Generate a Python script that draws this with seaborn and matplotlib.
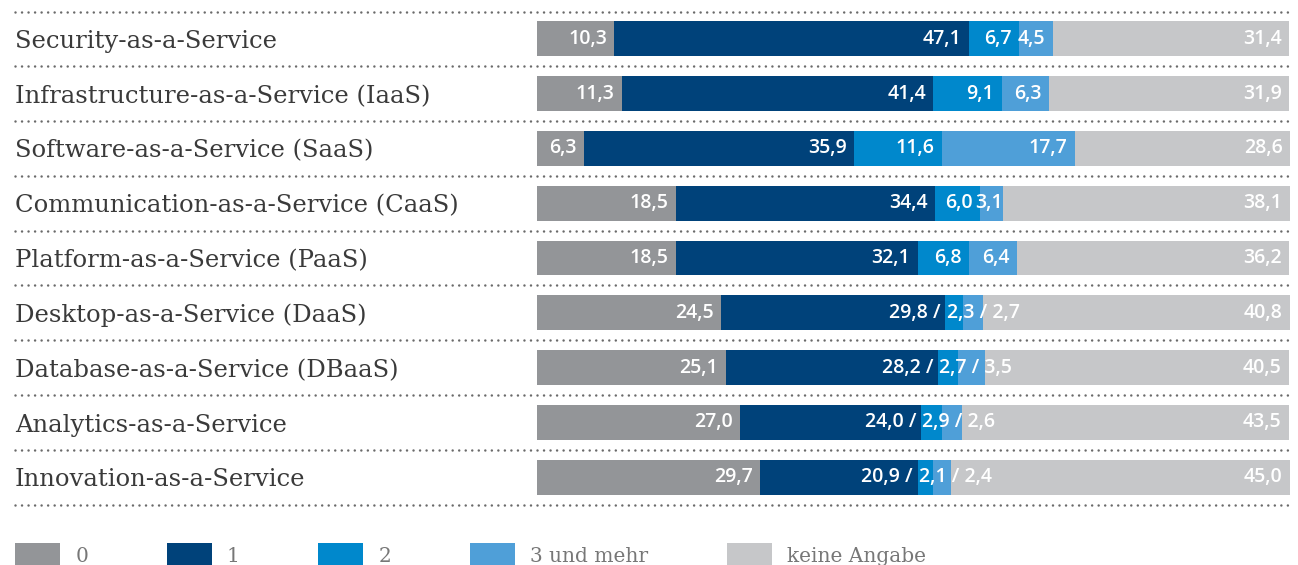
import matplotlib
matplotlib.use("Agg")
import matplotlib.pyplot as plt
import matplotlib.transforms as mtransforms
from matplotlib.patches import Patch
import seaborn as sns
import pandas as pd

categories = [
    "Security-as-a-Service",
    "Infrastructure-as-a-Service (IaaS)",
    "Software-as-a-Service (SaaS)",
    "Communication-as-a-Service (CaaS)",
    "Platform-as-a-Service (PaaS)",
    "Desktop-as-a-Service (DaaS)",
    "Database-as-a-Service (DBaaS)",
    "Analytics-as-a-Service",
    "Innovation-as-a-Service",
]
val_0 = [10.3, 11.3, 6.3, 18.5, 18.5, 24.5, 25.1, 27.0, 29.7]
val_1 = [47.1, 41.4, 35.9, 34.4, 32.1, 29.8, 28.2, 24.0, 20.9]
val_2 = [6.7, 9.1, 11.6, 6.0, 6.8, 2.3, 2.7, 2.9, 2.1]
val_3 = [4.5, 6.3, 17.7, 3.1, 6.4, 2.7, 3.5, 2.6, 2.4]
val_na = [31.4, 31.9, 28.6, 38.1, 36.2, 40.8, 40.5, 43.5, 45.0]
legend_labels = ["0", "1", "2", "3 und mehr", "keine Angabe"]
colors = ["#939598", "#00427a", "#0088cc", "#4f9fd8", "#c6c7c9"]

df = pd.DataFrame({"cat": categories, "v0": val_0, "v1": val_1, "v2": val_2,
                   "v3": val_3, "vna": val_na})
series = ["v0", "v1", "v2", "v3", "vna"]
cum = df[series].cumsum(axis=1)


def fmt(v):
    return f"{v:.1f}".replace(".", ",")


W, H = 1298, 565
fig = plt.figure(figsize=(W / 100, H / 100), dpi=100)
ax = fig.add_axes([537 / W, 1 - 504.5 / H, (1290 - 537) / W, (504.5 - 11.5) / H])

# stacked bars: draw cumulative totals from the outermost layer inwards
for s, c in reversed(list(zip(series, colors))):
    sns.barplot(x=cum[s], y=df["cat"], color=c, orient="h", width=0.635,
                saturation=1, ax=ax, edgecolor="none")

ax.set_xlim(0, 100.1)
ax.set_ylim(len(categories) - 0.5, -0.5)
ax.axis("off")

val_font = dict(family="Open Sans", weight="semibold", size=14, color="white",
                va="center")
for i, row in df.iterrows():
    ends = cum.iloc[i]
    if row["v2"] < 3:
        # small segments: combined label around the end of segment "1"
        ax.text(ends["v0"] - 1.0, i, fmt(row["v0"]), ha="right", **val_font)
        ax.text(ends["v1"] - 0.6, i, fmt(row["v1"]) + " /", ha="right", **val_font)
        ax.text(ends["v1"] + 0.15, i, fmt(row["v2"]) + " / " + fmt(row["v3"]),
                ha="left", **val_font)
        ax.text(ends["vna"] - 1.0, i, fmt(row["vna"]), ha="right", **val_font)
    else:
        for s in series:
            pad = 1.0 if row[s] >= 4 else 0.1
            ax.text(ends[s] - pad, i, fmt(row[s]), ha="right", **val_font)

# category labels and dotted separators across the whole width
trans = mtransforms.blended_transform_factory(fig.transFigure, ax.transData)
for i, cat in enumerate(categories):
    ax.text(15 / W, i + 0.05, cat, transform=trans, ha="left", va="center",
            family="DejaVu Serif", size=17.5, color="#3a3a3a")
for k in range(len(categories) + 1):
    ax.plot([15 / W, 1290 / W], [k - 0.5, k - 0.5], transform=trans,
            color="#6a6a6a", lw=1.8, linestyle=(0, (0.01, 2.6)),
            dash_capstyle="round", clip_on=False)

handles = [Patch(facecolor=c, edgecolor="none") for c in colors]
leg = fig.legend(handles, legend_labels, loc="upper left", ncol=5,
                 bbox_to_anchor=(15 / W, 1 - 543 / H), frameon=False,
                 prop={"family": "DejaVu Serif", "size": 14.5},
                 handlelength=2.24, handleheight=1.5, handletextpad=0.75,
                 columnspacing=3.9, borderpad=0, borderaxespad=0)
for t in leg.get_texts():
    t.set_color("#777777")

fig.savefig("out.png", dpi=100)
